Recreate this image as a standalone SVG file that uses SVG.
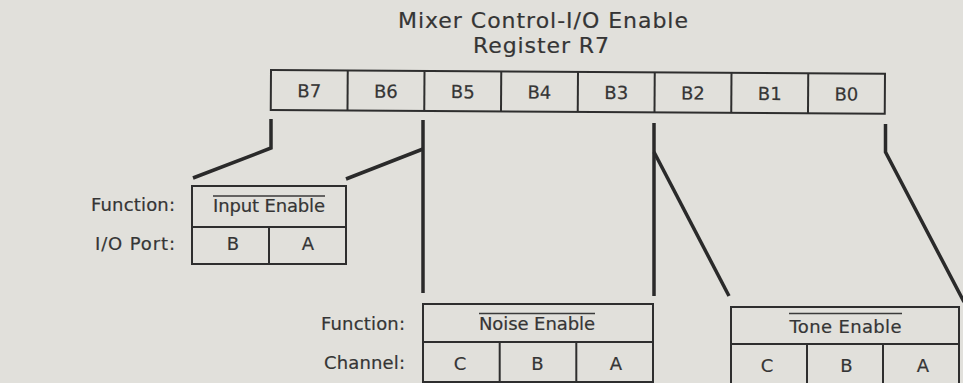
<svg xmlns="http://www.w3.org/2000/svg" width="963" height="383" viewBox="0 0 963 383">
<style>
.t{font-family:"DejaVu Sans","Liberation Sans",Arial,sans-serif;fill:#353535;stroke:#353535;stroke-width:0.2;}
.c{font-size:18px;text-anchor:middle;}
.l{font-size:18px;text-anchor:end;}
.box{fill:none;stroke:#2e2e2e;stroke-width:2;}
.ln{stroke:#2e2e2e;stroke-width:2;}
.con{fill:none;stroke:#2a2a2a;stroke-width:3.5;stroke-linejoin:miter;}
.ov{stroke:#3a3a3a;stroke-width:1.5;}
</style>
<rect width="963" height="383" fill="#e1e0db"/>
<g id="title">
<text class="t" x="543" y="27.5" font-size="22" text-anchor="middle" textLength="290" lengthAdjust="spacing">Mixer Control-I/O Enable</text>
<text class="t" x="541" y="53" font-size="22" text-anchor="middle" textLength="136" lengthAdjust="spacing">Register R7</text>
</g>
<g id="register" transform="rotate(0.35 271 70)">
<rect class="box" x="271" y="70" width="614" height="40"/>
<line class="ln" x1="347.75" y1="70" x2="347.75" y2="110"/>
<line class="ln" x1="424.5" y1="70" x2="424.5" y2="110"/>
<line class="ln" x1="501.25" y1="70" x2="501.25" y2="110"/>
<line class="ln" x1="578" y1="70" x2="578" y2="110"/>
<line class="ln" x1="654.75" y1="70" x2="654.75" y2="110"/>
<line class="ln" x1="731.5" y1="70" x2="731.5" y2="110"/>
<line class="ln" x1="808.25" y1="70" x2="808.25" y2="110"/>
<text class="t c" x="309.4" y="97">B7</text>
<text class="t c" x="386.1" y="97">B6</text>
<text class="t c" x="462.9" y="97">B5</text>
<text class="t c" x="539.6" y="97">B4</text>
<text class="t c" x="616.4" y="97">B3</text>
<text class="t c" x="693.1" y="97">B2</text>
<text class="t c" x="769.9" y="97">B1</text>
<text class="t c" x="846.6" y="97">B0</text>
</g>
<g id="connectors">
<polyline class="con" points="271,119 271,148 193,178"/>
<line class="con" x1="423" y1="120" x2="423" y2="293"/>
<line class="con" x1="423" y1="149" x2="346" y2="179"/>
<line class="con" x1="654" y1="123" x2="654" y2="296"/>
<line class="con" x1="654" y1="152" x2="729" y2="296"/>
<polyline class="con" points="885.5,124 885.5,152 964,302"/>
</g>
<g id="input-enable">
<rect class="box" x="192" y="186" width="154" height="78"/>
<line class="ln" x1="192" y1="227" x2="346" y2="227"/>
<line class="ln" x1="269" y1="227" x2="269" y2="264"/>
<line class="ov" x1="213" y1="196" x2="325" y2="196"/>
<text class="t c" x="269" y="212" textLength="112" lengthAdjust="spacing">Input Enable</text>
<text class="t c" x="233" y="250">B</text>
<text class="t c" x="308" y="250">A</text>
<text class="t l" x="175" y="211" textLength="84" lengthAdjust="spacing">Function:</text>
<text class="t l" x="175" y="250" textLength="80" lengthAdjust="spacing">I/O Port:</text>
</g>
<g id="noise-enable">
<rect class="box" x="423" y="304" width="230" height="78"/>
<line class="ln" x1="423" y1="342" x2="653" y2="342"/>
<line class="ln" x1="499.7" y1="342" x2="499.7" y2="382"/>
<line class="ln" x1="576.3" y1="342" x2="576.3" y2="382"/>
<line class="ov" x1="479" y1="313.5" x2="595" y2="313.5"/>
<text class="t c" x="537" y="329.5" textLength="116" lengthAdjust="spacing">Noise Enable</text>
<text class="t c" x="460" y="369.5">C</text>
<text class="t c" x="537.5" y="369.5">B</text>
<text class="t c" x="616" y="369.5">A</text>
<text class="t l" x="405" y="330" textLength="84" lengthAdjust="spacing">Function:</text>
<text class="t l" x="405" y="369" textLength="81" lengthAdjust="spacing">Channel:</text>
</g>
<g id="tone-enable">
<rect class="box" x="731" y="307" width="228" height="80"/>
<line class="ln" x1="731" y1="344" x2="959" y2="344"/>
<line class="ln" x1="807" y1="344" x2="807" y2="387"/>
<line class="ln" x1="883" y1="344" x2="883" y2="387"/>
<line class="ov" x1="789" y1="313.5" x2="902" y2="313.5"/>
<text class="t c" x="845.5" y="333" textLength="112" lengthAdjust="spacing">Tone Enable</text>
<text class="t c" x="767" y="371.5">C</text>
<text class="t c" x="846.5" y="371.5">B</text>
<text class="t c" x="923" y="371.5">A</text>
</g>
</svg>
